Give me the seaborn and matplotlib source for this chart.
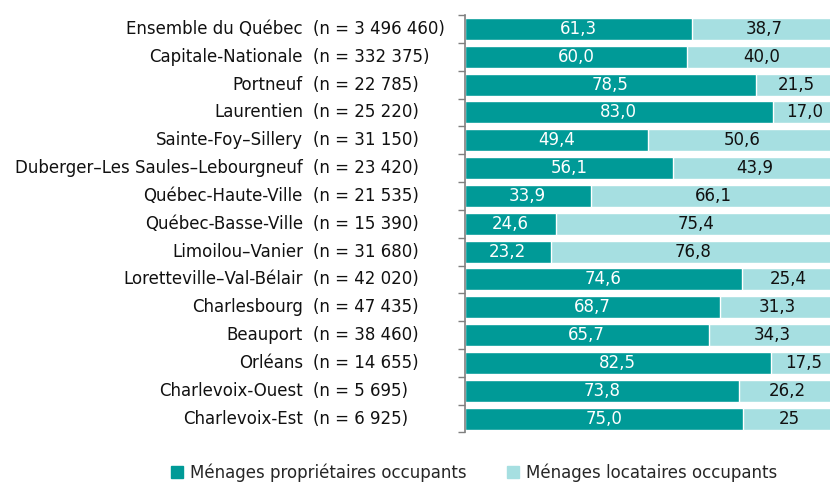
import numpy as np
import pandas as pd
import matplotlib
matplotlib.use("Agg")
import matplotlib.pyplot as plt
import matplotlib.transforms as mtransforms
from matplotlib.patches import Patch
import seaborn as sns

regions = ["Ensemble du Québec", "Capitale-Nationale", "Portneuf", "Laurentien",
           "Sainte-Foy–Sillery", "Duberger–Les Saules–Lebourgneuf", "Québec-Haute-Ville",
           "Québec-Basse-Ville", "Limoilou–Vanier", "Loretteville–Val-Bélair",
           "Charlesbourg", "Beauport", "Orléans", "Charlevoix-Ouest", "Charlevoix-Est"]
n_labels = ["(n = 3 496 460)", "(n = 332 375)", "(n = 22 785)", "(n = 25 220)",
            "(n = 31 150)", "(n = 23 420)", "(n = 21 535)", "(n = 15 390)",
            "(n = 31 680)", "(n = 42 020)", "(n = 47 435)", "(n = 38 460)",
            "(n = 14 655)", "(n = 5 695)", "(n = 6 925)"]
owners = [61.3, 60.0, 78.5, 83.0, 49.4, 56.1, 33.9, 24.6, 23.2, 74.6, 68.7, 65.7, 82.5, 73.8, 75.0]
renters = [38.7, 40.0, 21.5, 17.0, 50.6, 43.9, 66.1, 75.4, 76.8, 25.4, 31.3, 34.3, 17.5, 26.2, 25.0]
renter_labels = ["38,7", "40,0", "21,5", "17,0", "50,6", "43,9", "66,1", "75,4", "76,8",
                 "25,4", "31,3", "34,3", "17,5", "26,2", "25"]

teal = "#009a97"
light = "#a6dfe1"

sns.set_theme(style="white")
plt.rcParams["font.family"] = ["DejaVu Sans"]

df = pd.DataFrame({"region": regions, "owners": owners,
                   "total": np.array(owners) + np.array(renters)})

fig = plt.figure(figsize=(8.3, 4.87), dpi=100)
ax = fig.add_axes([0.560, 0.112, 0.447, 0.857])
sns.barplot(data=df, x="total", y="region", color=light, width=0.79,
            saturation=1, ax=ax, orient="h")
sns.barplot(data=df, x="owners", y="region", color=teal, width=0.79,
            saturation=1, ax=ax, orient="h")
ax.set_xlim(0, 100)
ax.set_ylim(len(regions) - 0.5, -0.5)
ax.set_xlabel("")
ax.set_ylabel("")
ax.set_xticks([])
ax.set_yticks([])
ax.set_yticks(np.arange(-0.5, len(regions)), minor=True)
ax.tick_params(axis="y", which="minor", left=True, length=5, width=1, color="#7f7f7f")
for s in ["top", "right", "bottom"]:
    ax.spines[s].set_visible(False)
ax.spines["left"].set_color("#7f7f7f")
ax.spines["left"].set_linewidth(1.2)

fs = 12
trans = mtransforms.blended_transform_factory(fig.transFigure, ax.transData)
for i, (r, nl) in enumerate(zip(regions, n_labels)):
    ax.text(0.365, i, r, transform=trans, ha="right", va="center", fontsize=fs, color="#111111")
    ax.text(0.377, i, nl, transform=trans, ha="left", va="center", fontsize=fs, color="#111111")
    ax.text(owners[i] / 2, i, f"{owners[i]:.1f}".replace(".", ","), ha="center",
            va="center", fontsize=fs, color="white")
    ax.text(owners[i] + renters[i] / 2, i, renter_labels[i], ha="center",
            va="center", fontsize=fs, color="#111111")

handles = [Patch(color=teal), Patch(color=light)]
fig.legend(handles, ["Ménages propriétaires occupants", "Ménages locataires occupants"],
           loc="center", bbox_to_anchor=(0.571, 0.029), ncol=2, frameon=False,
           fontsize=fs, handlelength=0.75, handleheight=0.75, handletextpad=0.4,
           columnspacing=2.4)

fig.savefig("out.png", dpi=100)
